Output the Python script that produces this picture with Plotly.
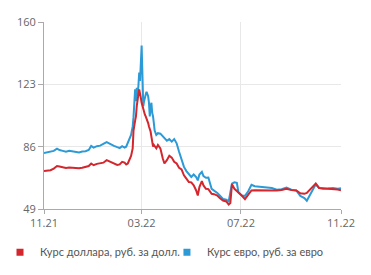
import plotly.graph_objects as go

dates = ["2021-11-01","2021-11-05","2021-11-09","2021-11-13","2021-11-17","2021-11-20","2021-11-24","2021-11-28",
         "2021-12-02","2021-12-06","2021-12-10","2021-12-14","2021-12-18","2021-12-22","2021-12-26","2021-12-29",
         "2022-01-01","2022-01-05","2022-01-09","2022-01-13","2022-01-17","2022-01-20","2022-01-23","2022-01-26","2022-01-30",
         "2022-02-02","2022-02-05","2022-02-08","2022-02-10","2022-02-12","2022-02-14","2022-02-16","2022-02-18","2022-02-19",
         "2022-02-21","2022-02-22","2022-02-23","2022-02-24","2022-02-25","2022-02-26","2022-02-27","2022-02-28",
         "2022-03-01","2022-03-02","2022-03-03","2022-03-04","2022-03-05","2022-03-06","2022-03-07","2022-03-08",
         "2022-03-09","2022-03-10","2022-03-11","2022-03-12","2022-03-13","2022-03-14","2022-03-15","2022-03-16",
         "2022-03-17","2022-03-19","2022-03-21","2022-03-24","2022-03-27","2022-03-29",
         "2022-04-01","2022-04-04","2022-04-07","2022-04-10","2022-04-13","2022-04-16","2022-04-19","2022-04-22",
         "2022-04-25","2022-04-28","2022-05-01","2022-05-04","2022-05-07","2022-05-09","2022-05-11","2022-05-14",
         "2022-05-16","2022-05-19","2022-05-22","2022-05-26","2022-05-29","2022-06-02","2022-06-05","2022-06-09",
         "2022-06-13","2022-06-16","2022-06-18","2022-06-20","2022-06-23","2022-06-26","2022-06-28","2022-07-02",
         "2022-07-06","2022-07-10","2022-07-14","2022-07-18","2022-07-24","2022-08-01","2022-08-08","2022-08-14",
         "2022-08-20","2022-08-26","2022-09-01","2022-09-07","2022-09-12","2022-09-17","2022-09-20","2022-09-24",
         "2022-09-28","2022-10-01","2022-10-05","2022-10-10","2022-10-16","2022-10-22","2022-10-28","2022-11-01"]

usd = [71.6,71.8,72.0,73.0,74.5,74.2,74.0,73.4,
       73.7,73.5,73.6,73.2,73.5,73.9,74.5,76.0,
       75.0,75.8,76.1,76.5,78.0,77.3,76.6,76.0,75.2,
       75.5,77.0,76.5,75.4,76.0,78.5,80.5,85.0,95.5,
       101.5,104.0,110.0,115.0,117.0,120.0,118.0,115.0,
       112.0,110.0,108.0,106.0,105.0,104.0,103.0,102.0,
       100.0,98.0,97.0,95.0,92.0,88.0,86.0,87.0,
       86.0,85.0,87.0,85.0,79.0,76.0,
       78.0,80.6,79.5,77.0,76.0,73.5,72.5,69.0,
       67.0,65.0,64.8,63.0,60.0,57.0,62.0,65.5,
       63.0,61.0,60.8,58.0,57.8,57.0,55.5,54.0,
       53.5,51.6,52.5,63.7,61.0,60.0,58.8,57.0,
       54.8,57.5,60.0,60.1,60.0,60.0,59.7,60.0,
       60.3,61.0,60.2,60.0,58.3,58.0,58.5,60.5,
       62.5,64.1,61.5,61.3,61.0,61.2,60.6,60.1]

eur = [82.3,82.6,82.9,83.5,84.8,84.0,83.5,83.0,
       83.5,83.2,83.0,82.6,83.1,83.3,84.0,86.4,
       85.4,86.3,86.6,87.5,88.7,88.0,87.0,86.5,85.7,
       85.2,86.3,85.5,86.0,88.0,90.0,93.0,98.0,103.5,
       120.0,113.0,121.0,116.0,122.0,130.0,125.0,133.0,
       146.0,128.0,110.0,113.0,116.0,117.0,118.5,117.0,
       116.0,112.0,104.0,110.0,112.0,106.0,104.0,100.0,
       95.6,93.0,94.0,93.7,92.0,91.5,
       89.5,90.5,89.0,90.5,88.0,83.0,79.0,74.0,
       71.5,70.0,68.0,69.5,68.0,66.0,69.5,71.0,
       68.5,67.5,67.7,61.0,60.0,58.5,57.0,55.0,
       54.5,53.5,58.8,64.1,64.8,64.5,58.8,57.0,
       56.8,59.5,63.4,62.5,62.2,61.7,61.5,60.5,
       60.8,61.7,60.5,60.0,56.8,55.5,53.9,57.5,
       61.0,63.7,61.5,61.0,61.2,61.5,61.0,61.3]

tick_vals_x = ["2021-11-01", "2022-03-01", "2022-07-01", "2022-11-01"]
tick_text_x = ["11.21", "03.22", "07.22", "11.22"]
tick_vals_y = [49, 86, 123, 160]

red = "#d3262d"
blue = "#2b9ad6"
names = ["Курс доллара, руб. за долл.", "Курс евро, руб. за евро"]

fig = go.Figure()
fig.add_trace(go.Scatter(x=dates, y=eur, mode="lines", line=dict(color=blue, width=2), showlegend=False))
fig.add_trace(go.Scatter(x=dates, y=usd, mode="lines", line=dict(color=red, width=2), showlegend=False))
fig.add_trace(go.Scatter(x=[None], y=[None], mode="markers", name=names[0], legend="legend",
                         marker=dict(symbol="square", color=red, size=7)))
fig.add_trace(go.Scatter(x=[None], y=[None], mode="markers", name=names[1], legend="legend2",
                         marker=dict(symbol="square", color=blue, size=7)))

legend_common = dict(orientation="h", xref="container", yref="container", xanchor="left",
                     yanchor="middle", y=0.083, itemwidth=30,
                     font=dict(family="Lato, sans-serif", size=11, color="#555"),
                     bgcolor="rgba(0,0,0,0)")

fig.update_layout(
    width=371, height=275,
    margin=dict(l=44, r=30, t=22, b=66, autoexpand=False),
    plot_bgcolor="white", paper_bgcolor="white",
    font=dict(family="Open Sans, sans-serif", size=11, color="#666"),
    legend=dict(legend_common, x=0.0),
    legend2=dict(legend_common, x=0.45),
    xaxis=dict(range=["2021-11-01", "2022-11-01"], tickvals=tick_vals_x, ticktext=tick_text_x,
               showgrid=True, gridcolor="#e8e8e8", gridwidth=1,
               showline=True, linecolor="#aaa", ticks="outside", ticklen=4, tickcolor="#aaa",
               zeroline=False),
    yaxis=dict(range=[49, 160], tickvals=tick_vals_y,
               showgrid=True, gridcolor="#e8e8e8", gridwidth=1,
               showline=True, linecolor="#aaa", ticks="outside", ticklen=5, tickcolor="#aaa",
               zeroline=False),
)

fig.write_html("out.html")
